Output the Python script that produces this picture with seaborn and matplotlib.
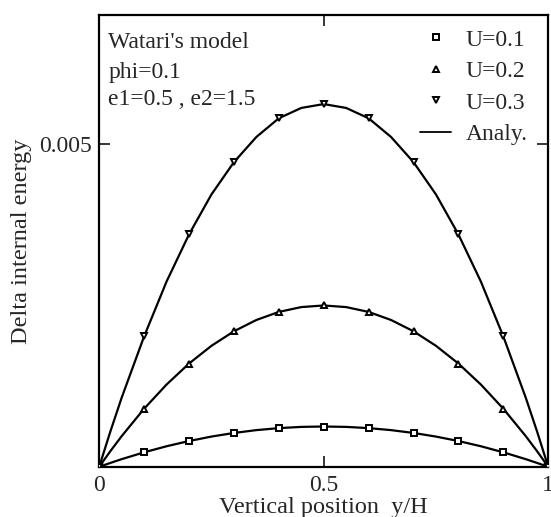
import matplotlib
matplotlib.use("Agg")
import matplotlib.pyplot as plt
from matplotlib.lines import Line2D
import numpy as np
import pandas as pd
import seaborn as sns

# simulation points (markers)
y_pts = [0.0, 0.1, 0.2, 0.3, 0.4, 0.5, 0.6, 0.7, 0.8, 0.9, 1.0]
sim_u01 = [0.0, 0.000225, 0.0004, 0.000525, 0.0006, 0.000625, 0.0006, 0.000525, 0.0004, 0.000225, 0.0]
sim_u02 = [0.0, 0.0009, 0.0016, 0.0021, 0.0024, 0.0025, 0.0024, 0.0021, 0.0016, 0.0009, 0.0]
sim_u03 = [0.0, 0.00202, 0.0036, 0.00472, 0.0054, 0.00562, 0.0054, 0.00472, 0.0036, 0.00202, 0.0]

# analytical curves
y_ana = [0.0, 0.025, 0.05, 0.1, 0.15, 0.2, 0.25, 0.3, 0.35, 0.4, 0.45, 0.5,
         0.55, 0.6, 0.65, 0.7, 0.75, 0.8, 0.85, 0.9, 0.95, 0.975, 1.0]
ana_u01 = [0.0, 0.000061, 0.000119, 0.000225, 0.000319, 0.0004, 0.000469, 0.000525, 0.000569, 0.0006, 0.000619, 0.000625,
           0.000619, 0.0006, 0.000569, 0.000525, 0.000469, 0.0004, 0.000319, 0.000225, 0.000119, 0.000061, 0.0]
ana_u02 = [0.0, 0.000244, 0.000475, 0.0009, 0.001275, 0.0016, 0.001875, 0.0021, 0.002275, 0.0024, 0.002475, 0.0025,
           0.002475, 0.0024, 0.002275, 0.0021, 0.001875, 0.0016, 0.001275, 0.0009, 0.000475, 0.000244, 0.0]
ana_u03 = [0.0, 0.00055, 0.00107, 0.00202, 0.00287, 0.0036, 0.00422, 0.00472, 0.00511, 0.0054, 0.00556, 0.00562,
           0.00556, 0.0054, 0.00511, 0.00472, 0.00422, 0.0036, 0.00287, 0.00202, 0.00107, 0.00055, 0.0]

labels = ['U=0.1', 'U=0.2', 'U=0.3']
markers = ['s', '^', 'v']

sim = pd.concat([pd.DataFrame({'y': y_pts, 'e': v, 'U': l})
                 for v, l in zip([sim_u01, sim_u02, sim_u03], labels)])
ana = pd.concat([pd.DataFrame({'y': y_ana, 'e': v, 'U': l})
                 for v, l in zip([ana_u01, ana_u02, ana_u03], labels)])

sns.set_style("ticks")
plt.rcParams['font.family'] = ['Liberation Serif', 'DejaVu Serif']

fig = plt.figure(figsize=(5.51, 5.17), dpi=100)
ax = fig.add_axes([0.18, 0.097, 0.815, 0.874])

sns.lineplot(data=ana, x='y', y='e', units='U', estimator=None, color='black',
             lw=1.6, ax=ax, legend=False, sort=False)
for l, m in zip(labels, markers):
    d = sim[sim['U'] == l]
    ax.plot(d['y'], d['e'], ls='none', marker=m, ms=5, mfc='white',
            mec='black', mew=1.4, zorder=3)

ax.set_xlim(0, 1)
ax.set_ylim(0, 0.007)
ax.set_xticks([0, 0.5, 1])
ax.set_xticklabels(['0', '0.5', '1'])
ax.set_yticks([0.005])
ax.set_yticklabels(['0.005'])
ax.tick_params(direction='in', length=8, width=1.3, labelsize=17,
               top=True, right=True, pad=5)
ax.tick_params(axis='x', pad=6)
for s in ax.spines.values():
    s.set_linewidth(1.6)
    s.set_color('black')

ax.set_xlabel('Vertical position  y/H', fontsize=17.5)
ax.set_ylabel('Delta internal energy', fontsize=17.5)
ax.xaxis.set_label_coords(0.5, -0.066)
ax.yaxis.set_label_coords(-0.15, 0.5)

ax.text(0.02, 0.963, "Watari's model", transform=ax.transAxes, fontsize=17, va='top')
ax.text(0.02, 0.897, "phi=0.1", transform=ax.transAxes, fontsize=17, va='top')
ax.text(0.02, 0.836, "e1=0.5 , e2=1.5", transform=ax.transAxes, fontsize=17, va='top')

handles = [Line2D([], [], ls='none', marker=m, ms=4.5, mfc='white', mec='black', mew=1.4)
           for m in markers]
handles.append(Line2D([], [], color='black', lw=1.3))
ax.legend(handles, labels + ['Analy.'], loc='upper right', frameon=False,
          fontsize=17, handlelength=1.3, handletextpad=0.6, labelspacing=0.42,
          borderaxespad=0.2, bbox_to_anchor=(0.985, 1.0))

fig.savefig('out.png', dpi=100)
